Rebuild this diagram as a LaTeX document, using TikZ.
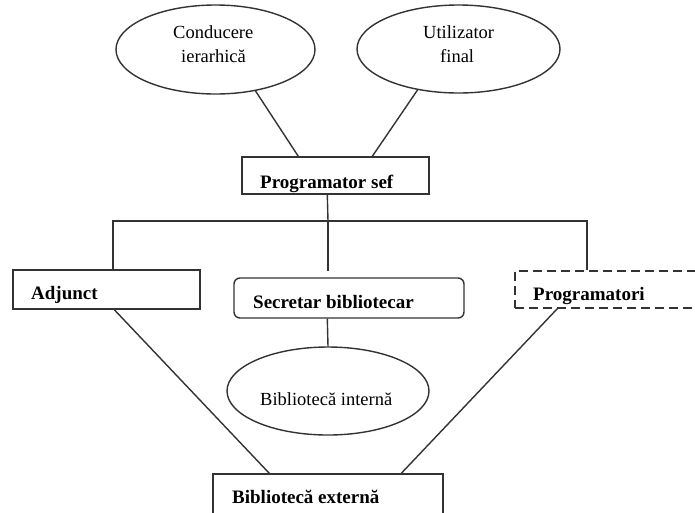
\documentclass[tikz,border=0pt]{standalone}
\usepackage{fontspec}
\setmainfont{Liberation Serif}
\usetikzlibrary{shapes.geometric}
\begin{document}
\begin{tikzpicture}[x=1pt,y=-1pt,
  conn/.style={line width=1.4pt, black!80},
  box/.style={draw=black!80, line width=1.4pt, rectangle, inner sep=0pt},
  dbox/.style={box, dash pattern=on 9pt off 5pt},
  rbox/.style={box, rounded corners=6pt},
  oval/.style={draw=black!80, line width=1.4pt, ellipse, inner sep=0pt},
  lbl/.style={anchor=base west, inner sep=0pt, font=\fontsize{18.5}{22}\selectfont},
  blbl/.style={anchor=base west, inner sep=0pt, font=\fontsize{19}{22}\selectfont\bfseries}]
\clip (0,0) rectangle (695,512);
\fill[white] (0,0) rectangle (695,512);

% top ellipses
\node[oval, minimum width=199pt, minimum height=89pt] (ce) at (215.5,49.5) {};
\node[oval, minimum width=203pt, minimum height=88pt] (uf) at (458.5,49) {};
\node[lbl] (ceA) at (173,38) {Conducere};
\node[lbl] (ceB) at (181,62) {ierarhică};
\node[lbl] (ufA) at (423,38) {Utilizator};
\node[lbl] (ufB) at (440,62) {final};

% chief programmer
\node[box, minimum width=187pt, minimum height=37pt] (ps) at (335.5,175.5) {};
\node[blbl] (psT) at (260,188) {Programator sef};

% second row
\node[box, minimum width=187pt, minimum height=39pt] (adj) at (106.5,289.5) {};
\node[blbl] (adjT) at (31,299) {Adjunct};
\node[rbox, minimum width=230pt, minimum height=40pt] (sec) at (349,298) {};
\node[blbl] (secT) at (253,308) {Secretar bibliotecar};
\node[dbox, minimum width=205pt, minimum height=37pt] (prg) at (617.5,289.5) {};
\node[blbl] (prgT) at (533,300) {Programatori};

% libraries
\node[oval, minimum width=202pt, minimum height=88pt] (bi) at (328,391) {};
\node[lbl] (biT) at (260,405) {Bibliotecă internă};
\node[box, minimum width=230pt, minimum height=42pt] (be) at (328,495) {};
\node[blbl] (beT) at (232,503) {Bibliotecă externă};

% connectors
\coordinate (jl) at (113,221);
\coordinate (jm) at (328,221);
\coordinate (jr) at (587,221);
\coordinate (secTop) at (328,271);

\draw[conn] (ce.-46) -- ([xshift=57pt]ps.north west);
\draw[conn] (uf.-135) -- ([xshift=131pt]ps.north west);
\draw[conn] ([xshift=86pt]ps.south west) -- (jm);
\draw[conn] (jl |- adj.north) -- (jl) -- (jr) -- (jr |- prg.north);
\draw[conn] (jm) -- (secTop);
\draw[conn] ([xshift=94pt]sec.south west) -- (bi.north);
\draw[conn] ([xshift=102pt]adj.south west) -- ([xshift=57pt]be.north west);
\draw[conn] ([xshift=43pt]prg.south west) -- ([xshift=189pt]be.north west);
\end{tikzpicture}
\end{document}
